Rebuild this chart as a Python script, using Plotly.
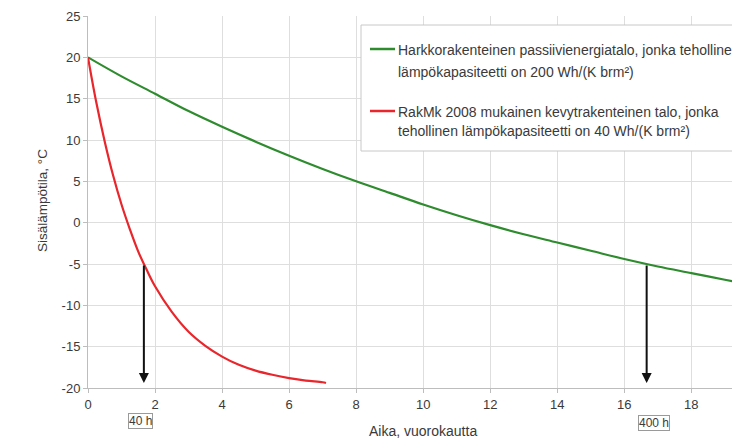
import plotly.graph_objects as go

# --- data ---
days_heavy = [0, 1, 2, 3, 4, 5, 6, 7, 8, 9, 10, 11, 12, 13, 14, 15, 16, 17, 18, 19, 20]
temp_heavy = [20.0, 17.7, 15.6, 13.5, 11.6, 9.8, 8.1, 6.5, 5.0, 3.6, 2.2, 0.9, -0.3,
              -1.4, -2.4, -3.4, -4.4, -5.3, -6.1, -6.9, -7.7]

days_light = [0, 0.25, 0.5, 0.75, 1.0, 1.25, 1.5, 1.75, 2.0, 2.5, 3.0, 3.5, 4.0,
              4.5, 5.0, 5.5, 6.0, 6.5, 7.0, 7.1]
temp_light = [20.0, 14.5, 9.8, 5.7, 2.2, -0.8, -3.5, -5.7, -7.7, -10.8, -13.2, -14.9,
              -16.2, -17.2, -17.9, -18.4, -18.8, -19.1, -19.3, -19.4]

series_names = [
    ["Harkkorakenteinen passiivienergiatalo, jonka tehollinen",
     "lämpökapasiteetti on 200 Wh/(K brm²)"],
    ["RakMk 2008 mukainen kevytrakenteinen talo, jonka",
     "tehollinen lämpökapasiteetti on 40 Wh/(K brm²)"],
]
series_colors = ["#2e8b2e", "#e8262b"]

arrow_days = [40 / 24, 400 / 24]
arrow_labels = ["40 h", "400 h"]
arrow_temp_top = -5
arrow_temp_bottom = -19.4

x_ticks = [0, 2, 4, 6, 8, 10, 12, 14, 16, 18]
y_ticks = [25, 20, 15, 10, 5, 0, -5, -10, -15, -20]

x_title = "Aika, vuorokautta"
y_title = "Sisälämpötila, °C"

# --- layout geometry (page pixels; the page body has an 8px margin) ---
OFF = 8
W, H = 740, 440
PL, PR, PT, PB = 88, 748, 16, 388          # plot area edges on the page
L, T = PL - OFF, PT - OFF
R = W - (PR - OFF)
B = H - (PB - OFF)
PW, PH = W - L - R, H - T - B
X_MAX = 19.69


def px(xp):
    return (xp - OFF - L) / PW


def py(yp):
    return (H - B - (yp - OFF)) / PH


FONT = "Liberation Sans, Arial, sans-serif"
TXT = "#3a3a3a"

fig = go.Figure()
fig.add_trace(go.Scatter(x=days_heavy, y=temp_heavy, mode="lines",
                         line=dict(color=series_colors[0], width=2.2, shape="spline"),
                         name=" ".join(series_names[0]), showlegend=False))
fig.add_trace(go.Scatter(x=days_light, y=temp_light, mode="lines",
                         line=dict(color=series_colors[1], width=2.2, shape="spline"),
                         name=" ".join(series_names[1]), showlegend=False))

annotations = []
shapes = []

# arrows
for d, lab, bx, by in zip(arrow_days, arrow_labels, [140, 654], [421, 423]):
    annotations.append(dict(x=d, y=arrow_temp_bottom, xref="x", yref="y",
                            ax=d, ay=arrow_temp_top, axref="x", ayref="y",
                            showarrow=True, arrowhead=2, arrowsize=1, arrowwidth=2,
                            arrowcolor="#111111", text=""))
    annotations.append(dict(x=px(bx), y=py(by), xref="paper", yref="paper",
                            text=lab, showarrow=False, font=dict(family=FONT, size=12, color=TXT),
                            bordercolor="#9a9a9a", borderwidth=1, borderpad=0,
                            bgcolor="white", xanchor="center", yanchor="middle"))

# legend box
shapes.append(dict(type="rect", xref="paper", yref="paper",
                   x0=px(361), x1=px(770), y0=py(151), y1=py(25),
                   fillcolor="white", line=dict(color="#c8c8c8", width=1), layer="above"))
leg_line_y = [49, 111]
leg_text_y = [[50, 72], [112, 131]]
for i in range(2):
    shapes.append(dict(type="line", xref="paper", yref="paper",
                       x0=px(370), x1=px(395), y0=py(leg_line_y[i]), y1=py(leg_line_y[i]),
                       line=dict(color=series_colors[i], width=2.5), layer="above"))
    for j, txt in enumerate(series_names[i]):
        annotations.append(dict(x=px(396), y=py(leg_text_y[i][j]),
                                xref="paper", yref="paper", text=txt, showarrow=False,
                                xanchor="left", yanchor="middle",
                                font=dict(family=FONT, size=14, color=TXT)))

# axis titles
annotations.append(dict(x=px(423), y=py(431), xref="paper", yref="paper", text=x_title,
                        showarrow=False, xanchor="center", yanchor="middle",
                        font=dict(family=FONT, size=14, color=TXT)))
annotations.append(dict(x=px(42), y=py(201), xref="paper", yref="paper", text=y_title,
                        showarrow=False, xanchor="center", yanchor="middle", textangle=-90,
                        font=dict(family=FONT, size=13.5, color=TXT)))

fig.update_layout(
    width=W, height=H,
    margin=dict(l=L, r=R, t=T, b=B, autoexpand=False),
    paper_bgcolor="white", plot_bgcolor="white",
    showlegend=False,
    annotations=annotations, shapes=shapes,
    xaxis=dict(range=[0, X_MAX], tickvals=x_ticks, ticktext=[str(v) for v in x_ticks],
               showgrid=True, gridcolor="#dedede", gridwidth=1,
               showline=True, linecolor="#bdbdbd", linewidth=1,
               ticks="outside", ticklen=4, tickcolor="#bdbdbd",
               tickfont=dict(family=FONT, size=13, color=TXT), zeroline=False),
    yaxis=dict(range=[-20, 25], tickvals=y_ticks, ticktext=[str(v) for v in y_ticks],
               showgrid=True, gridcolor="#dedede", gridwidth=1,
               showline=True, linecolor="#bdbdbd", linewidth=1,
               ticks="outside", ticklen=4, tickcolor="#bdbdbd",
               tickfont=dict(family=FONT, size=13, color=TXT), zeroline=False),
)

fig.write_html("out.html")
